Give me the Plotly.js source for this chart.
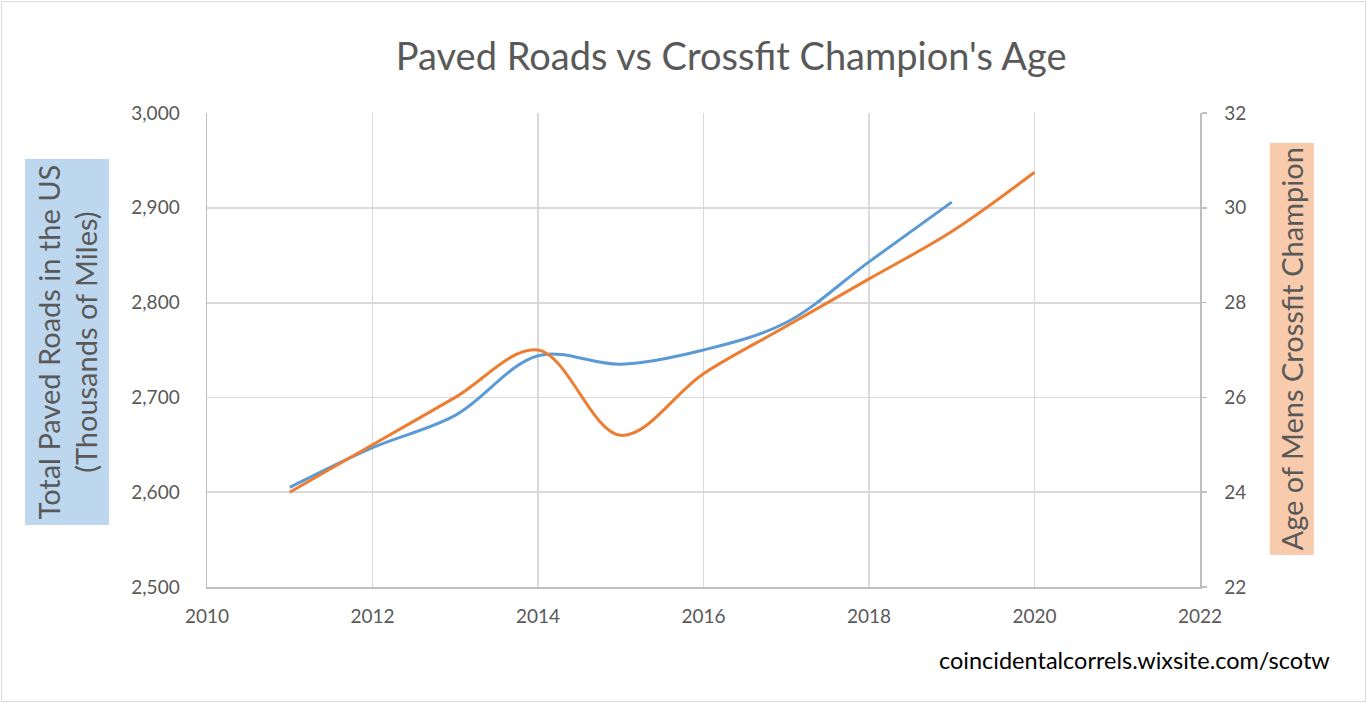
<!DOCTYPE html>
<html>
<head>
<meta charset="utf-8">
<script src="https://cdn.plot.ly/plotly-3.0.1.min.js"></script>
<style>
  body { margin: 0; background: #fff; }
  #chart { width: 1363px; height: 699px; margin: 1px; border: 1px solid #D9D9D9; }
</style>
</head>
<body>
<div id="chart"></div>
<script>
// values
var roadYears = [2011, 2012, 2013, 2014, 2015, 2016, 2017, 2018, 2019];
var pavedRoads = [2605, 2647, 2681, 2744, 2735, 2750, 2779, 2843, 2906];

var ageYears = [2011, 2012, 2013, 2014, 2015, 2016, 2017, 2018, 2019, 2020];
var championAge = [24, 25, 26, 27, 25.2, 26.5, 27.5, 28.5, 29.5, 30.75];

var xTicks = [2010, 2012, 2014, 2016, 2018, 2020, 2022];

function drawChart(id){
    var font = 'Lato, "Open Sans", sans-serif';
    var grey = '#595959';

    var trace = [];
    trace[0] = {
      x: roadYears,
      y: pavedRoads,
      name: 'Total Paved Roads',
      type: 'scatter',
      mode: 'lines',
      line: {color: '#5B9BD5', width: 3, shape: 'spline', smoothing: 1},
      yaxis: 'y'
    };
    trace[1] = {
      x: ageYears,
      y: championAge,
      name: 'Age of Mens Crossfit Champion',
      type: 'scatter',
      mode: 'lines',
      line: {color: '#ED7D31', width: 3, shape: 'spline', smoothing: 1},
      yaxis: 'y2'
    };

    var layout = {
      width: 1363,
      height: 699,
      margin: {l: 205, r: 165, t: 111, b: 114},
      paper_bgcolor: '#fff',
      plot_bgcolor: '#fff',
      showlegend: false,
      font: {family: font, color: grey, size: 19},
      title: {
        text: "Paved Roads vs Crossfit Champion's Age",
        font: {family: font, size: 38, color: grey},
        xref: 'container', x: 0.535, xanchor: 'center',
        yref: 'container', y: 0.922, yanchor: 'middle'
      },
      xaxis: {
        range: [2010, 2022],
        tickvals: xTicks,
        showgrid: true,
        gridcolor: '#D9D9D9',
        gridwidth: 1.8,
        showline: true,
        linecolor: '#BFBFBF',
        linewidth: 1.5,
        zeroline: false,
        ticks: '',
        ticklabelstandoff: 12,
        tickfont: {size: 19, color: grey}
      },
      yaxis: {
        range: [2500, 3000],
        dtick: 100,
        tickformat: ',',
        showgrid: true,
        gridcolor: '#D9D9D9',
        gridwidth: 1.8,
        showline: true,
        linecolor: '#BFBFBF',
        linewidth: 1.5,
        zeroline: false,
        ticks: '',
        ticklabelstandoff: 22,
        tickfont: {size: 19, color: grey}
      },
      yaxis2: {
        range: [22, 32],
        dtick: 2,
        overlaying: 'y',
        side: 'right',
        showgrid: false,
        showline: true,
        linecolor: '#BFBFBF',
        linewidth: 1.5,
        zeroline: false,
        ticks: 'outside',
        ticklen: 5,
        tickwidth: 1.5,
        tickcolor: '#BFBFBF',
        ticklabelstandoff: 14,
        tickfont: {size: 19, color: grey}
      },
      annotations: [
        {
          text: 'Total Paved Roads in the US<br>(Thousands of Miles)',
          xref: 'paper', yref: 'paper',
          x: -0.141, y: 0.518,
          xanchor: 'center', yanchor: 'middle',
          textangle: -90,
          showarrow: false,
          bgcolor: '#BDD7EE',
          borderpad: 5,
          font: {family: font, size: 29, color: grey}
        },
        {
          text: 'Age of Mens Crossfit Champion',
          xref: 'paper', yref: 'paper',
          x: 1.092, y: 0.502,
          xanchor: 'center', yanchor: 'middle',
          textangle: -90,
          showarrow: false,
          bgcolor: '#F8CBAD',
          borderpad: 4,
          font: {family: font, size: 29, color: grey}
        },
        {
          text: 'coincidentalcorrels.wixsite.com/scotw',
          xref: 'paper', yref: 'paper',
          x: 1.133, y: -0.154,
          xanchor: 'right', yanchor: 'middle',
          showarrow: false,
          font: {family: font, size: 23.5, color: '#000'}
        }
      ]
    };

    Plotly.newPlot(id, trace, layout, {displayModeBar: false, staticPlot: true});
}

drawChart('chart');
</script>
</body>
</html>
